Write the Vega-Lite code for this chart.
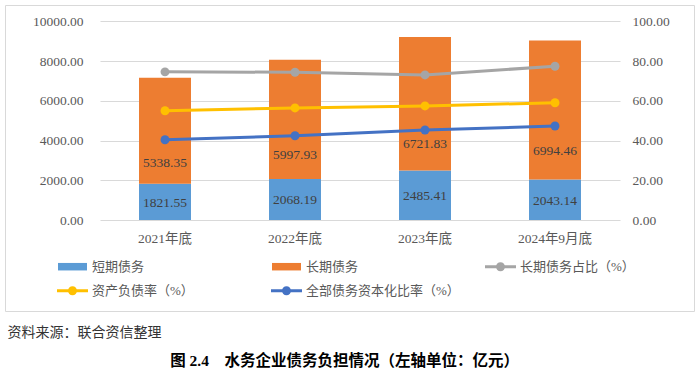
{
  "$schema": "https://vega.github.io/schema/vega-lite/v6.json",
  "width": 689,
  "height": 306,
  "autosize": {"type": "none"},
  "padding": {"left": 5, "top": 5, "right": 6, "bottom": 65},
  "background": "white",
  "config": {
    "view": {"stroke": "#D9D9D9", "strokeWidth": 1},
    "font": "Liberation Serif, Noto Sans CJK SC",
    "axis": {"domain": false, "ticks": false, "tickSize": 0, "labelFont": "Liberation Serif, Noto Sans CJK SC", "labelColor": "#595959", "labelFontSize": 13.5}
  },
  "datasets": {
    "bars": [
      {"period": "2021年底", "series": "短期债务", "value": 1821.55},
      {"period": "2021年底", "series": "长期债务", "value": 5338.35},
      {"period": "2022年底", "series": "短期债务", "value": 2068.19},
      {"period": "2022年底", "series": "长期债务", "value": 5997.93},
      {"period": "2023年底", "series": "短期债务", "value": 2485.41},
      {"period": "2023年底", "series": "长期债务", "value": 6721.83},
      {"period": "2024年9月底", "series": "短期债务", "value": 2043.14},
      {"period": "2024年9月底", "series": "长期债务", "value": 6994.46}
    ],
    "lines": [
      {"period": "2021年底", "series": "长期债务占比（%）", "value": 74.56},
      {"period": "2022年底", "series": "长期债务占比（%）", "value": 74.36},
      {"period": "2023年底", "series": "长期债务占比（%）", "value": 73.01},
      {"period": "2024年9月底", "series": "长期债务占比（%）", "value": 77.39},
      {"period": "2021年底", "series": "资产负债率（%）", "value": 55.0},
      {"period": "2022年底", "series": "资产负债率（%）", "value": 56.4},
      {"period": "2023年底", "series": "资产负债率（%）", "value": 57.4},
      {"period": "2024年9月底", "series": "资产负债率（%）", "value": 59.0},
      {"period": "2021年底", "series": "全部债务资本化比率（%）", "value": 40.4},
      {"period": "2022年底", "series": "全部债务资本化比率（%）", "value": 42.4},
      {"period": "2023年底", "series": "全部债务资本化比率（%）", "value": 45.3},
      {"period": "2024年9月底", "series": "全部债务资本化比率（%）", "value": 47.3}
    ]
  },
  "layer": [
    {
      "data": {"name": "bars"},
      "transform": [
        {"stack": "value", "groupby": ["period"], "sort": [{"field": "series", "order": "ascending"}], "as": ["v0", "v1"]},
        {"calculate": "datum.series === '短期债务' ? (datum.v0 + datum.v1) / 2 : datum.v0 + 0.21 * (datum.v1 - datum.v0)", "as": "labelPos"}
      ],
      "encoding": {
        "x": {
          "field": "period", "type": "nominal",
          "scale": {"range": [95, 615], "paddingInner": 0.6, "paddingOuter": 0.3},
          "axis": {
            "orient": "bottom", "offset": -91, "labelPadding": 11, "labelAngle": 0, "grid": false,
            "title": "图 2.4　水务企业债务负担情况（左轴单位：亿元）",
            "titleX": 339, "titleY": 140, "titleAlign": "center", "titleBaseline": "middle", "titleAnchor": null,
            "titleFont": "Liberation Serif, Noto Sans CJK SC", "titleFontSize": 15.5, "titleFontWeight": "bold", "titleColor": "#000000"
          }
        }
      },
      "layer": [
        {
          "mark": {"type": "bar"},
          "encoding": {
            "y": {
              "field": "v1", "type": "quantitative",
              "scale": {"domain": [0, 10000], "range": [215, 16.3], "nice": false, "zero": true},
              "axis": {
                "orient": "left", "offset": -95, "labelPadding": 17, "grid": true, "gridColor": "#D9D9D9", "gridWidth": 1,
                "values": [0, 2000, 4000, 6000, 8000, 10000], "format": ".2f",
                "title": "资料来源：联合资信整理", "titleAngle": 0, "titleX": -93, "titleY": 327,
                "titleAlign": "left", "titleBaseline": "middle", "titleAnchor": null,
                "titleFont": "Noto Sans CJK SC", "titleFontSize": 14, "titleFontWeight": "normal", "titleColor": "#333333"
              }
            },
            "y2": {"field": "v0"},
            "color": {
              "field": "series", "type": "nominal",
              "scale": {"domain": ["短期债务", "长期债务", "长期债务占比（%）", "资产负债率（%）", "全部债务资本化比率（%）"], "range": ["#5B9BD5", "#ED7D31", "#A5A5A5", "#FFC000", "#4472C4"]},
              "legend": null
            }
          }
        },
        {
          "mark": {"type": "text", "font": "Liberation Serif", "fontSize": 13.5, "fill": "#404040", "baseline": "middle", "dy": 1},
          "encoding": {
            "y": {"field": "labelPos", "type": "quantitative"},
            "text": {"field": "value", "type": "quantitative", "format": ".2f"}
          }
        }
      ]
    },
    {
      "data": {"name": "lines"},
      "encoding": {
        "x": {"field": "period", "type": "nominal"},
        "y": {
          "field": "value", "type": "quantitative",
          "scale": {"domain": [0, 100], "range": [215, 16.3], "nice": false, "zero": true},
          "axis": {"orient": "right", "offset": -74, "labelPadding": 12, "grid": false, "values": [0, 20, 40, 60, 80, 100], "format": ".2f", "title": null}
        },
        "color": {
          "field": "series", "type": "nominal",
          "scale": {"domain": ["短期债务", "长期债务", "长期债务占比（%）", "资产负债率（%）", "全部债务资本化比率（%）"], "range": ["#5B9BD5", "#ED7D31", "#A5A5A5", "#FFC000", "#4472C4"]},
          "legend": null
        }
      },
      "layer": [
        {"mark": {"type": "line", "strokeWidth": 3}},
        {"mark": {"type": "point", "filled": true, "size": 80, "opacity": 1}},
        {
          "transform": [{"filter": "false"}],
          "mark": {"type": "point", "filled": true, "size": 400, "opacity": 1},
          "encoding": {
            "color": {
              "field": "series", "type": "nominal",
              "scale": {"domain": ["短期债务", "长期债务", "长期债务占比（%）", "资产负债率（%）", "全部债务资本化比率（%）"], "range": ["#5B9BD5", "#ED7D31", "#A5A5A5", "#FFC000", "#4472C4"]},
              "legend": {"title": null, "orient": "none", "direction": "horizontal", "legendX": 57.5, "legendY": 251.7, "columns": 3, "gridAlign": "all", "columnPadding": 24, "rowPadding": 7, "symbolSize": 400, "symbolStrokeWidth": 0, "labelOffset": 9.5, "labelLimit": 400, "labelFontSize": 13, "labelColor": "#595959", "labelFont": "Liberation Serif, Noto Sans CJK SC", "padding": 0}
            },
            "shape": {
              "field": "series", "type": "nominal",
              "scale": {"domain": ["短期债务", "长期债务", "长期债务占比（%）", "资产负债率（%）", "全部债务资本化比率（%）"], "range": ["M-1.45,-0.375H1.45V0.375H-1.45Z", "M-1.45,-0.375H1.45V0.375H-1.45Z", "M-1.55,-0.15H1.55V0.15H-1.55Z M0.45,0A0.45,0.45,0,1,1,-0.45,0A0.45,0.45,0,1,1,0.45,0Z", "M-1.55,-0.15H1.55V0.15H-1.55Z M0.45,0A0.45,0.45,0,1,1,-0.45,0A0.45,0.45,0,1,1,0.45,0Z", "M-1.55,-0.15H1.55V0.15H-1.55Z M0.45,0A0.45,0.45,0,1,1,-0.45,0A0.45,0.45,0,1,1,0.45,0Z"]},
              "legend": {"title": null, "orient": "none", "direction": "horizontal", "legendX": 57.5, "legendY": 251.7, "columns": 3, "gridAlign": "all", "columnPadding": 24, "rowPadding": 7, "symbolSize": 400, "symbolStrokeWidth": 0, "labelOffset": 9.5, "labelLimit": 400, "labelFontSize": 13, "labelColor": "#595959", "labelFont": "Liberation Serif, Noto Sans CJK SC", "padding": 0}
            }
          }
        }
      ],
      "resolve": {"legend": {"color": "independent", "shape": "independent"}}
    }
  ],
  "resolve": {"scale": {"y": "independent"}, "legend": {"color": "independent", "shape": "independent"}}
}
